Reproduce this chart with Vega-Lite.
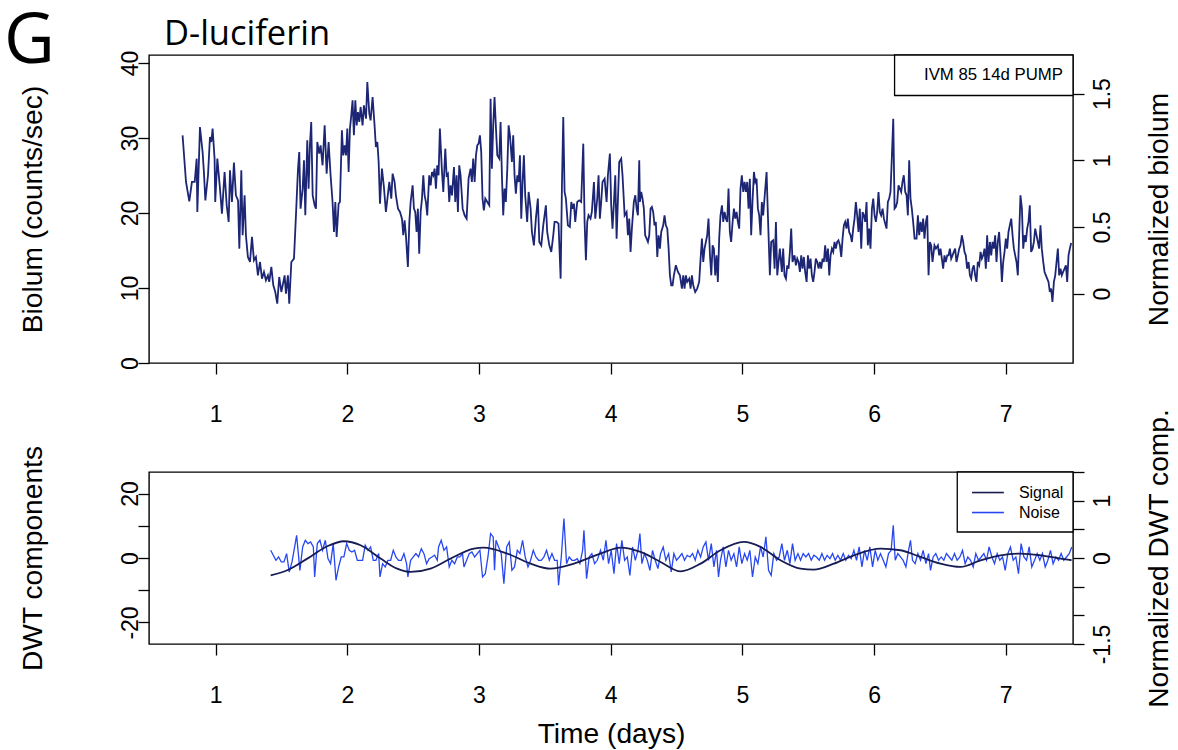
{
 "$schema": "https://vega.github.io/schema/vega-lite/v6.json",
 "background": "white",
 "padding": {"left": 3, "top": 6, "right": 5, "bottom": 5},
 "bounds": "flush",
 "spacing": 109,
 "config": {
  "font": "Liberation Sans",
  "view": {"stroke": "black", "strokeWidth": 1.4},
  "axis": {"domain": false, "grid": false, "labelFont": "Liberation Sans", "titleFont": "Liberation Sans", "labelFontSize": 23, "titleFontSize": 28.2, "titleFontWeight": "normal", "labelColor": "black", "titleColor": "black", "tickColor": "black", "tickSize": 11, "tickWidth": 1.3, "labelFlush": false, "labelOverlap": false}
 },
 "datasets": {
  "biolum": [
{"t":0.749,"b":30.36},{"t":0.775,"b":24.14},{"t":0.800,"b":21.56},{"t":0.820,"b":24.14},{"t":0.841,"b":24.14},{"t":0.856,"b":27.25},{"t":0.861,"b":20.14},{"t":0.881,"b":31.47},{"t":0.901,"b":28.14},{"t":0.911,"b":25.47},{"t":0.922,"b":21.69},{"t":0.942,"b":25.03},{"t":0.957,"b":30.14},{"t":0.967,"b":29.47},{"t":0.977,"b":31.25},{"t":0.992,"b":27.25},{"t":0.997,"b":21.47},{"t":1.013,"b":27.25},{"t":1.033,"b":23.25},{"t":1.048,"b":19.92},{"t":1.068,"b":25.47},{"t":1.084,"b":21.03},{"t":1.099,"b":18.81},{"t":1.109,"b":25.69},{"t":1.124,"b":21.47},{"t":1.139,"b":26.72},{"t":1.154,"b":22.36},{"t":1.170,"b":21.69},{"t":1.180,"b":15.25},{"t":1.195,"b":25.69},{"t":1.205,"b":17.03},{"t":1.220,"b":22.36},{"t":1.230,"b":17.03},{"t":1.245,"b":14.14},{"t":1.261,"b":13.47},{"t":1.276,"b":16.81},{"t":1.291,"b":13.69},{"t":1.306,"b":14.14},{"t":1.321,"b":11.69},{"t":1.337,"b":13.47},{"t":1.352,"b":11.25},{"t":1.367,"b":12.14},{"t":1.382,"b":11.03},{"t":1.397,"b":11.69},{"t":1.407,"b":10.81},{"t":1.423,"b":12.81},{"t":1.438,"b":10.36},{"t":1.453,"b":9.47},{"t":1.468,"b":7.92},{"t":1.483,"b":11.47},{"t":1.499,"b":9.47},{"t":1.509,"b":10.36},{"t":1.524,"b":11.69},{"t":1.534,"b":9.25},{"t":1.549,"b":11.69},{"t":1.559,"b":7.92},{"t":1.575,"b":13.47},{"t":1.595,"b":13.92},{"t":1.610,"b":19.69},{"t":1.625,"b":25.69},{"t":1.635,"b":28.14},{"t":1.645,"b":20.58},{"t":1.661,"b":23.25},{"t":1.671,"b":27.03},{"t":1.681,"b":19.69},{"t":1.696,"b":29.69},{"t":1.706,"b":23.25},{"t":1.716,"b":29.03},{"t":1.726,"b":32.14},{"t":1.737,"b":22.36},{"t":1.752,"b":21.03},{"t":1.762,"b":20.58},{"t":1.772,"b":29.47},{"t":1.787,"b":27.92},
{"t":1.797,"b":29.03},{"t":1.812,"b":26.36},{"t":1.828,"b":31.69},{"t":1.843,"b":25.25},{"t":1.858,"b":29.47},{"t":1.873,"b":25.03},{"t":1.888,"b":21.47},{"t":1.899,"b":17.47},{"t":1.909,"b":21.47},{"t":1.919,"b":16.81},{"t":1.934,"b":21.25},{"t":1.944,"b":21.47},{"t":1.959,"b":31.03},{"t":1.969,"b":27.69},{"t":1.980,"b":29.03},{"t":1.990,"b":27.69},{"t":2.000,"b":31.25},{"t":2.010,"b":25.47},{"t":2.020,"b":31.25},{"t":2.030,"b":33.03},{"t":2.040,"b":35.03},{"t":2.050,"b":30.36},{"t":2.061,"b":35.03},{"t":2.071,"b":31.69},{"t":2.081,"b":33.47},{"t":2.091,"b":32.14},{"t":2.101,"b":34.14},{"t":2.116,"b":31.69},{"t":2.126,"b":34.36},{"t":2.142,"b":32.58},{"t":2.152,"b":37.47},{"t":2.167,"b":33.25},{"t":2.177,"b":32.36},{"t":2.192,"b":35.47},{"t":2.207,"b":31.69},{"t":2.217,"b":28.81},{"t":2.228,"b":29.47},{"t":2.238,"b":26.81},{"t":2.248,"b":21.25},{"t":2.263,"b":25.92},{"t":2.278,"b":23.47},{"t":2.293,"b":20.14},{"t":2.309,"b":22.58},{"t":2.319,"b":24.14},{"t":2.334,"b":21.92},{"t":2.344,"b":25.25},{"t":2.359,"b":24.14},{"t":2.369,"b":22.36},{"t":2.385,"b":20.58},{"t":2.400,"b":20.14},{"t":2.415,"b":19.25},{"t":2.425,"b":17.03},{"t":2.435,"b":19.03},{"t":2.445,"b":17.03},{"t":2.460,"b":12.81},{"t":2.471,"b":18.81},{"t":2.481,"b":21.47},{"t":2.496,"b":23.69},{"t":2.506,"b":20.58},{"t":2.516,"b":20.14},{"t":2.526,"b":17.47},{"t":2.536,"b":20.58},{"t":2.546,"b":14.58},{"t":2.557,"b":20.14},{"t":2.567,"b":21.92},{"t":2.577,"b":25.03},{"t":2.587,"b":22.36},{"t":2.597,"b":21.47},{"t":2.607,"b":19.69},{"t":2.622,"b":25.03},{"t":2.633,"b":23.69},{"t":2.643,"b":25.47},{"t":2.653,"b":25.03},{"t":2.663,"b":25.92},{"t":2.673,"b":23.25},{"t":2.683,"b":26.36},{"t":2.693,"b":25.03},{"t":2.703,"b":31.25},{"t":2.719,"b":25.47},{"t":2.729,"b":22.81},{"t":2.744,"b":28.58},{"t":2.754,"b":25.03},{"t":2.764,"b":25.25},{"t":2.774,"b":21.47},{"t":2.784,"b":23.69},{"t":2.795,"b":22.36},{"t":2.810,"b":26.14},{"t":2.820,"b":21.47},{"t":2.830,"b":25.03},{"t":2.840,"b":20.14},{"t":2.850,"b":26.36},{"t":2.860,"b":25.03},{"t":2.876,"b":20.58},{"t":2.891,"b":19.69},{"t":2.906,"b":19.25},{"t":2.921,"b":24.58},
{"t":2.936,"b":25.92},{"t":2.946,"b":24.14},{"t":2.956,"b":27.25},{"t":2.967,"b":24.14},{"t":2.977,"b":27.69},{"t":2.987,"b":29.03},{"t":2.997,"b":29.25},{"t":3.007,"b":30.36},{"t":3.017,"b":28.14},{"t":3.027,"b":21.92},{"t":3.037,"b":20.36},{"t":3.048,"b":21.92},{"t":3.063,"b":21.47},{"t":3.078,"b":21.03},{"t":3.088,"b":35.25},{"t":3.098,"b":25.92},{"t":3.108,"b":31.69},{"t":3.118,"b":35.47},{"t":3.129,"b":31.25},{"t":3.139,"b":27.69},{"t":3.154,"b":27.25},{"t":3.164,"b":32.14},{"t":3.174,"b":25.03},{"t":3.184,"b":19.69},{"t":3.194,"b":23.25},{"t":3.204,"b":21.47},{"t":3.215,"b":25.92},{"t":3.225,"b":31.69},{"t":3.235,"b":30.36},{"t":3.250,"b":26.81},{"t":3.260,"b":30.36},{"t":3.270,"b":25.03},{"t":3.280,"b":22.58},{"t":3.291,"b":25.03},{"t":3.301,"b":24.14},{"t":3.311,"b":27.69},{"t":3.321,"b":19.25},{"t":3.331,"b":24.14},{"t":3.341,"b":27.69},{"t":3.351,"b":22.36},{"t":3.366,"b":18.81},{"t":3.377,"b":22.81},{"t":3.392,"b":20.58},{"t":3.402,"b":17.47},{"t":3.417,"b":15.69},{"t":3.432,"b":19.25},{"t":3.447,"b":21.92},{"t":3.458,"b":16.14},{"t":3.473,"b":15.69},{"t":3.488,"b":18.36},{"t":3.498,"b":19.69},{"t":3.508,"b":21.03},{"t":3.518,"b":17.47},{"t":3.534,"b":15.69},{"t":3.549,"b":14.81},{"t":3.564,"b":17.03},{"t":3.574,"b":18.81},{"t":3.589,"b":18.81},{"t":3.604,"b":18.58},{"t":3.620,"b":11.25},{"t":3.630,"b":23.69},{"t":3.640,"b":32.81},{"t":3.650,"b":22.81},{"t":3.660,"b":21.92},{"t":3.675,"b":18.36},{"t":3.690,"b":18.14},{"t":3.701,"b":21.47},{"t":3.711,"b":20.58},{"t":3.721,"b":21.25},{"t":3.731,"b":18.81},{"t":3.746,"b":21.47},{"t":3.761,"b":21.69},{"t":3.776,"b":21.47},{"t":3.792,"b":29.25},{"t":3.802,"b":18.81},{"t":3.812,"b":13.69},{"t":3.822,"b":18.81},{"t":3.832,"b":19.69},{"t":3.847,"b":19.25},{"t":3.857,"b":20.14},{"t":3.873,"b":24.14},{"t":3.883,"b":19.25},{"t":3.898,"b":21.92},{"t":3.908,"b":25.03},{"t":3.918,"b":19.25},{"t":3.928,"b":21.47},{"t":3.938,"b":24.14},{"t":3.954,"b":24.58},{"t":3.969,"b":21.47},{"t":3.979,"b":25.03},{"t":3.994,"b":27.92},{"t":4.004,"b":21.03},{"t":4.014,"b":17.92},{"t":4.025,"b":21.47},{"t":4.035,"b":25.03},{"t":4.045,"b":16.58},
{"t":4.065,"b":26.81},{"t":4.080,"b":27.25},{"t":4.090,"b":25.03},{"t":4.106,"b":19.69},{"t":4.121,"b":20.14},{"t":4.131,"b":17.03},{"t":4.141,"b":19.25},{"t":4.151,"b":14.81},{"t":4.161,"b":17.92},{"t":4.176,"b":21.47},{"t":4.187,"b":22.36},{"t":4.197,"b":20.58},{"t":4.207,"b":19.69},{"t":4.217,"b":27.03},{"t":4.222,"b":21.47},{"t":4.232,"b":22.81},{"t":4.242,"b":21.92},{"t":4.252,"b":20.58},{"t":4.262,"b":17.03},{"t":4.273,"b":16.58},{"t":4.283,"b":16.14},{"t":4.293,"b":17.03},{"t":4.303,"b":20.58},{"t":4.313,"b":20.81},{"t":4.323,"b":20.14},{"t":4.333,"b":18.36},{"t":4.343,"b":18.81},{"t":4.354,"b":14.14},{"t":4.364,"b":17.03},{"t":4.374,"b":15.25},{"t":4.384,"b":17.47},{"t":4.399,"b":18.36},{"t":4.409,"b":19.69},{"t":4.419,"b":18.36},{"t":4.430,"b":17.92},{"t":4.440,"b":15.25},{"t":4.450,"b":11.69},{"t":4.460,"b":10.36},{"t":4.470,"b":10.36},{"t":4.480,"b":11.69},{"t":4.495,"b":13.03},{"t":4.511,"b":12.14},{"t":4.526,"b":11.69},{"t":4.541,"b":9.92},{"t":4.551,"b":11.69},{"t":4.561,"b":9.92},{"t":4.571,"b":11.69},{"t":4.581,"b":10.81},{"t":4.597,"b":11.25},{"t":4.607,"b":9.92},{"t":4.617,"b":11.69},{"t":4.627,"b":10.36},{"t":4.642,"b":9.47},{"t":4.657,"b":9.92},{"t":4.672,"b":10.81},{"t":4.683,"b":13.92},{"t":4.693,"b":16.58},{"t":4.703,"b":13.47},{"t":4.713,"b":15.25},{"t":4.723,"b":16.14},{"t":4.733,"b":17.03},{"t":4.743,"b":19.25},{"t":4.754,"b":14.36},{"t":4.764,"b":11.69},{"t":4.774,"b":15.69},{"t":4.784,"b":15.25},{"t":4.794,"b":11.69},{"t":4.804,"b":14.36},{"t":4.814,"b":10.81},{"t":4.824,"b":16.58},{"t":4.834,"b":19.69},{"t":4.845,"b":21.03},{"t":4.855,"b":18.81},{"t":4.865,"b":20.14},{"t":4.875,"b":19.25},{"t":4.885,"b":18.81},{"t":4.895,"b":23.25},{"t":4.905,"b":17.47},{"t":4.915,"b":16.14},{"t":4.926,"b":18.81},{"t":4.936,"b":20.58},{"t":4.946,"b":19.25},{"t":4.956,"b":20.14},{"t":4.966,"b":18.81},{"t":4.976,"b":17.92},{"t":4.986,"b":23.25},{"t":4.996,"b":25.03},{"t":5.007,"b":22.81},{"t":5.017,"b":24.14},{"t":5.027,"b":22.81},{"t":5.037,"b":24.14},{"t":5.047,"b":20.58},{"t":5.057,"b":24.58},{"t":5.067,"b":17.03},{"t":5.077,"b":21.47},{"t":5.088,"b":25.47},{"t":5.098,"b":24.14},{"t":5.108,"b":24.58},{"t":5.118,"b":20.58},{"t":5.128,"b":19.69},{"t":5.138,"b":17.03},{"t":5.148,"b":21.47},{"t":5.158,"b":19.69},
{"t":5.184,"b":25.47},{"t":5.194,"b":19.69},{"t":5.209,"b":11.69},{"t":5.219,"b":16.14},{"t":5.234,"b":16.36},{"t":5.245,"b":12.58},{"t":5.255,"b":18.81},{"t":5.265,"b":11.69},{"t":5.275,"b":13.47},{"t":5.285,"b":15.25},{"t":5.300,"b":12.14},{"t":5.310,"b":15.25},{"t":5.320,"b":11.69},{"t":5.331,"b":11.25},{"t":5.341,"b":13.03},{"t":5.351,"b":12.58},{"t":5.361,"b":14.81},{"t":5.371,"b":17.92},{"t":5.381,"b":13.47},{"t":5.396,"b":14.36},{"t":5.407,"b":13.03},{"t":5.417,"b":13.92},{"t":5.427,"b":13.47},{"t":5.437,"b":12.14},{"t":5.447,"b":14.36},{"t":5.457,"b":12.58},{"t":5.467,"b":14.14},{"t":5.477,"b":12.14},{"t":5.488,"b":10.81},{"t":5.498,"b":14.36},{"t":5.508,"b":12.58},{"t":5.518,"b":13.92},{"t":5.528,"b":11.69},{"t":5.538,"b":10.81},{"t":5.548,"b":12.14},{"t":5.558,"b":13.92},{"t":5.569,"b":13.47},{"t":5.579,"b":12.58},{"t":5.589,"b":13.47},{"t":5.599,"b":12.58},{"t":5.609,"b":13.92},{"t":5.619,"b":13.47},{"t":5.629,"b":15.69},{"t":5.639,"b":13.47},{"t":5.650,"b":15.25},{"t":5.660,"b":11.69},{"t":5.670,"b":14.36},{"t":5.680,"b":15.25},{"t":5.690,"b":14.81},{"t":5.700,"b":16.14},{"t":5.710,"b":15.25},{"t":5.720,"b":16.14},{"t":5.730,"b":16.36},{"t":5.741,"b":15.69},{"t":5.751,"b":14.14},{"t":5.761,"b":16.58},{"t":5.771,"b":18.36},{"t":5.781,"b":18.81},{"t":5.791,"b":17.92},{"t":5.801,"b":19.25},{"t":5.811,"b":17.47},{"t":5.822,"b":17.03},{"t":5.832,"b":16.14},{"t":5.842,"b":17.92},{"t":5.852,"b":19.25},{"t":5.862,"b":21.47},{"t":5.872,"b":19.69},{"t":5.882,"b":17.47},{"t":5.892,"b":20.58},{"t":5.903,"b":15.25},{"t":5.913,"b":20.14},{"t":5.923,"b":19.69},{"t":5.933,"b":18.81},{"t":5.943,"b":21.47},{"t":5.953,"b":15.69},{"t":5.963,"b":17.92},{"t":5.973,"b":15.25},{"t":5.984,"b":20.58},{"t":5.994,"b":21.92},{"t":6.004,"b":19.69},{"t":6.014,"b":18.81},{"t":6.024,"b":20.14},{"t":6.034,"b":22.81},{"t":6.044,"b":20.14},{"t":6.054,"b":19.69},{"t":6.065,"b":20.58},{"t":6.075,"b":19.25},{"t":6.085,"b":18.58},{"t":6.095,"b":17.92},{"t":6.105,"b":21.47},{"t":6.115,"b":21.92},{"t":6.125,"b":22.81},{"t":6.135,"b":27.25},{"t":6.146,"b":32.58},{"t":6.156,"b":20.58},{"t":6.166,"b":20.81},{"t":6.176,"b":21.47},{"t":6.186,"b":23.69},{"t":6.196,"b":23.25},{"t":6.206,"b":22.81},{"t":6.216,"b":24.14},{"t":6.226,"b":25.03},{"t":6.237,"b":22.81},{"t":6.247,"b":22.36},{"t":6.257,"b":19.69},{"t":6.267,"b":27.03},{"t":6.277,"b":21.92},{"t":6.287,"b":20.58},{"t":6.297,"b":18.81},{"t":6.308,"b":16.58},{"t":6.323,"b":16.58},
{"t":6.333,"b":19.69},{"t":6.343,"b":17.03},{"t":6.353,"b":18.81},{"t":6.363,"b":17.47},{"t":6.373,"b":19.25},{"t":6.383,"b":16.58},{"t":6.394,"b":18.81},{"t":6.404,"b":19.69},{"t":6.414,"b":11.69},{"t":6.424,"b":16.14},{"t":6.434,"b":15.69},{"t":6.444,"b":13.47},{"t":6.459,"b":15.69},{"t":6.470,"b":15.25},{"t":6.485,"b":15.69},{"t":6.495,"b":14.36},{"t":6.505,"b":15.25},{"t":6.515,"b":13.92},{"t":6.525,"b":12.58},{"t":6.535,"b":14.36},{"t":6.545,"b":13.47},{"t":6.556,"b":14.36},{"t":6.566,"b":14.36},{"t":6.576,"b":15.25},{"t":6.586,"b":13.92},{"t":6.596,"b":14.36},{"t":6.606,"b":14.81},{"t":6.616,"b":15.25},{"t":6.626,"b":13.47},{"t":6.637,"b":14.36},{"t":6.647,"b":15.25},{"t":6.657,"b":15.69},{"t":6.667,"b":17.03},{"t":6.677,"b":16.14},{"t":6.687,"b":14.81},{"t":6.697,"b":14.36},{"t":6.707,"b":12.58},{"t":6.718,"b":13.47},{"t":6.728,"b":11.69},{"t":6.738,"b":11.25},{"t":6.748,"b":12.58},{"t":6.758,"b":13.03},{"t":6.768,"b":11.69},{"t":6.778,"b":10.81},{"t":6.788,"b":13.47},{"t":6.799,"b":13.03},{"t":6.809,"b":14.81},{"t":6.819,"b":13.92},{"t":6.829,"b":14.36},{"t":6.839,"b":15.25},{"t":6.849,"b":12.58},{"t":6.859,"b":17.03},{"t":6.869,"b":13.47},{"t":6.880,"b":16.14},{"t":6.890,"b":14.36},{"t":6.900,"b":16.14},{"t":6.910,"b":15.25},{"t":6.920,"b":17.03},{"t":6.930,"b":13.47},{"t":6.940,"b":16.14},{"t":6.950,"b":17.47},{"t":6.961,"b":14.36},{"t":6.971,"b":10.81},{"t":6.981,"b":13.47},{"t":6.991,"b":14.81},{"t":7.001,"b":16.58},{"t":7.011,"b":15.25},{"t":7.021,"b":17.47},{"t":7.031,"b":18.36},{"t":7.042,"b":19.25},{"t":7.052,"b":17.03},{"t":7.062,"b":15.25},{"t":7.072,"b":14.36},{"t":7.082,"b":13.47},{"t":7.092,"b":11.69},{"t":7.102,"b":17.03},{"t":7.112,"b":22.36},{"t":7.123,"b":20.58},{"t":7.133,"b":15.25},{"t":7.143,"b":17.03},{"t":7.153,"b":16.14},{"t":7.163,"b":17.92},{"t":7.173,"b":18.81},{"t":7.183,"b":21.03},{"t":7.193,"b":14.81},{"t":7.204,"b":15.25},{"t":7.214,"b":16.14},{"t":7.224,"b":17.92},{"t":7.234,"b":17.03},{"t":7.244,"b":16.14},{"t":7.254,"b":15.25},{"t":7.264,"b":18.36},{"t":7.274,"b":15.25},{"t":7.285,"b":13.47},{"t":7.295,"b":12.14},{"t":7.305,"b":11.69},{"t":7.315,"b":11.25},{"t":7.325,"b":10.81},{"t":7.335,"b":9.47},{"t":7.345,"b":9.92},{"t":7.355,"b":8.14},{"t":7.366,"b":10.81},{"t":7.376,"b":11.69},{"t":7.386,"b":13.47},{"t":7.396,"b":15.25},{"t":7.406,"b":11.69},{"t":7.416,"b":12.58},{"t":7.426,"b":11.69},{"t":7.436,"b":12.14},{"t":7.447,"b":12.58},{"t":7.457,"b":13.03},{"t":7.467,"b":10.81},{"t":7.477,"b":14.36},{"t":7.487,"b":15.25},{"t":7.497,"b":16.0}
  ],
  "noise": [
{"t":1.418,"v":2.39},{"t":1.438,"v":0.84},{"t":1.458,"v":-0.71},{"t":1.478,"v":0.32},{"t":1.499,"v":-1.23},{"t":1.519,"v":-1.23},{"t":1.539,"v":1.36},{"t":1.559,"v":-4.33},{"t":1.580,"v":-1.23},{"t":1.600,"v":3.43},{"t":1.615,"v":7.05},{"t":1.640,"v":-3.82},{"t":1.661,"v":3.43},{"t":1.681,"v":5.50},{"t":1.701,"v":4.47},{"t":1.721,"v":4.98},{"t":1.742,"v":3.43},{"t":1.752,"v":-5.89},{"t":1.772,"v":4.47},{"t":1.792,"v":5.50},{"t":1.812,"v":2.39},{"t":1.833,"v":5.50},{"t":1.853,"v":-0.19},{"t":1.873,"v":-1.75},{"t":1.893,"v":4.47},{"t":1.914,"v":-6.92},{"t":1.934,"v":-2.78},{"t":1.954,"v":0.32},{"t":1.974,"v":0.32},{"t":1.995,"v":4.47},{"t":2.015,"v":2.39},{"t":2.035,"v":1.88},{"t":2.055,"v":2.39},{"t":2.076,"v":-0.71},{"t":2.096,"v":-0.71},{"t":2.116,"v":-0.71},{"t":2.136,"v":3.95},{"t":2.157,"v":2.39},{"t":2.177,"v":3.43},{"t":2.197,"v":-0.71},{"t":2.217,"v":-0.71},{"t":2.238,"v":1.36},{"t":2.248,"v":-5.89},{"t":2.268,"v":-1.75},{"t":2.288,"v":-2.78},{"t":2.308,"v":-0.71},{"t":2.329,"v":-0.71},{"t":2.349,"v":2.39},{"t":2.369,"v":0.32},{"t":2.389,"v":-0.71},{"t":2.410,"v":-0.71},{"t":2.430,"v":1.36},{"t":2.450,"v":-1.75},{"t":2.460,"v":-5.89},{"t":2.481,"v":-0.71},{"t":2.501,"v":0.32},{"t":2.521,"v":1.36},{"t":2.541,"v":0.32},{"t":2.562,"v":2.91},{"t":2.582,"v":1.36},{"t":2.602,"v":-1.75},{"t":2.622,"v":-0.19},{"t":2.643,"v":0.32},{"t":2.663,"v":0.84},{"t":2.683,"v":-0.71},{"t":2.693,"v":3.43},{"t":2.713,"v":5.50},{"t":2.734,"v":2.39},{"t":2.754,"v":3.43},{"t":2.774,"v":-2.78},{"t":2.794,"v":-0.71},{"t":2.815,"v":-1.75},{"t":2.835,"v":0.32},{"t":2.855,"v":0.32},{"t":2.875,"v":1.36},{"t":2.886,"v":-2.78},{"t":2.906,"v":-0.71},{"t":2.926,"v":1.36},{"t":2.946,"v":1.88},{"t":2.967,"v":0.32},{"t":2.987,"v":1.36},{"t":3.007,"v":2.39},{"t":3.027,"v":-5.89},{"t":3.048,"v":-4.85},{"t":3.068,"v":0.32},{"t":3.088,"v":7.57},{"t":3.108,"v":6.54},{"t":3.118,"v":-3.82},{"t":3.129,"v":5.50},{"t":3.149,"v":3.43},{"t":3.169,"v":1.36},{"t":3.189,"v":-7.95},{"t":3.210,"v":3.43},{"t":3.230,"v":4.98},{"t":3.250,"v":-3.82},{"t":3.270,"v":-2.78},{"t":3.291,"v":2.39},{"t":3.311,"v":1.36},{"t":3.331,"v":5.50},{"t":3.351,"v":0.32},{"t":3.372,"v":-2.78},{"t":3.392,"v":-0.71},{"t":3.412,"v":2.39},{"t":3.432,"v":0.32},{"t":3.453,"v":-0.71},{"t":3.473,"v":-0.71},{"t":3.493,"v":0.32},{"t":3.513,"v":2.39},{"t":3.534,"v":-0.71},{"t":3.554,"v":1.36},{"t":3.574,"v":-0.71},{"t":3.594,"v":-0.71},{"t":3.604,"v":-8.47},{"t":3.625,"v":0.32},{"t":3.645,"v":12.23},{"t":3.665,"v":-1.75},{"t":3.685,"v":0.32},{"t":3.706,"v":-0.71},{"t":3.726,"v":-0.71},{"t":3.746,"v":-0.19},{"t":3.766,"v":-1.75},{"t":3.787,"v":2.39},{"t":3.797,"v":8.61},{"t":3.817,"v":-6.40},{"t":3.837,"v":0.32},{"t":3.857,"v":1.36},{"t":3.878,"v":-1.75},{"t":3.898,"v":-0.71},
{"t":3.923,"v":2.39},{"t":3.944,"v":-0.71},{"t":3.964,"v":5.50},{"t":3.984,"v":-1.75},{"t":4.004,"v":2.39},{"t":4.025,"v":-4.85},{"t":4.045,"v":4.47},{"t":4.065,"v":-1.75},{"t":4.085,"v":5.50},{"t":4.106,"v":-0.71},{"t":4.126,"v":0.32},{"t":4.146,"v":-5.37},{"t":4.166,"v":3.43},{"t":4.187,"v":-0.71},{"t":4.207,"v":2.39},{"t":4.222,"v":7.57},{"t":4.237,"v":-1.75},{"t":4.257,"v":1.36},{"t":4.278,"v":-0.71},{"t":4.298,"v":-3.82},{"t":4.318,"v":2.39},{"t":4.338,"v":-0.71},{"t":4.359,"v":-3.30},{"t":4.379,"v":1.36},{"t":4.399,"v":3.43},{"t":4.419,"v":-0.71},{"t":4.440,"v":1.36},{"t":4.460,"v":-4.33},{"t":4.480,"v":1.36},{"t":4.500,"v":-0.71},{"t":4.521,"v":0.32},{"t":4.541,"v":1.36},{"t":4.561,"v":-0.71},{"t":4.581,"v":0.84},{"t":4.602,"v":0.32},{"t":4.622,"v":1.36},{"t":4.642,"v":-0.71},{"t":4.662,"v":2.39},{"t":4.683,"v":0.32},{"t":4.703,"v":3.43},{"t":4.723,"v":4.98},{"t":4.743,"v":-0.71},{"t":4.764,"v":4.47},{"t":4.784,"v":-2.78},{"t":4.804,"v":2.39},{"t":4.819,"v":-5.89},{"t":4.834,"v":-0.71},{"t":4.855,"v":3.43},{"t":4.875,"v":-2.78},{"t":4.895,"v":2.39},{"t":4.915,"v":-0.71},{"t":4.936,"v":1.36},{"t":4.956,"v":-2.78},{"t":4.976,"v":3.43},{"t":4.996,"v":-1.75},{"t":5.017,"v":1.36},{"t":5.037,"v":-0.71},{"t":5.057,"v":2.39},{"t":5.077,"v":-5.89},{"t":5.098,"v":0.32},{"t":5.118,"v":-1.75},{"t":5.138,"v":3.43},{"t":5.158,"v":0.32},{"t":5.179,"v":6.54},{"t":5.199,"v":-3.82},{"t":5.219,"v":-5.37},{"t":5.239,"v":1.36},{"t":5.260,"v":-0.71},{"t":5.280,"v":0.32},{"t":5.300,"v":4.47},{"t":5.320,"v":-0.71},{"t":5.341,"v":2.39},{"t":5.361,"v":-1.75},{"t":5.381,"v":4.47},{"t":5.401,"v":-0.71},{"t":5.422,"v":1.36},{"t":5.442,"v":-0.71},{"t":5.462,"v":1.36},{"t":5.482,"v":0.32},{"t":5.503,"v":1.36},{"t":5.523,"v":-0.71},{"t":5.543,"v":0.84},{"t":5.563,"v":0.32},{"t":5.584,"v":-0.71},{"t":5.604,"v":1.36},{"t":5.624,"v":-0.71},{"t":5.644,"v":0.84},{"t":5.665,"v":-0.19},{"t":5.685,"v":1.36},{"t":5.705,"v":-0.71},{"t":5.725,"v":0.84},{"t":5.746,"v":-0.71},{"t":5.766,"v":1.36},{"t":5.786,"v":-0.71},{"t":5.806,"v":0.84},{"t":5.827,"v":-0.19},{"t":5.847,"v":2.39},{"t":5.867,"v":-0.71},{"t":5.887,"v":3.43},{"t":5.908,"v":-2.78},{"t":5.928,"v":2.39},{"t":5.948,"v":-0.71},{"t":5.968,"v":3.43},{"t":5.989,"v":-2.78},{"t":6.009,"v":2.39},{"t":6.029,"v":-0.71},{"t":6.049,"v":1.36},{"t":6.070,"v":-0.71},{"t":6.090,"v":-2.78},{"t":6.110,"v":1.36},{"t":6.130,"v":2.39},{"t":6.146,"v":10.16},{"t":6.161,"v":-0.71},{"t":6.181,"v":1.36},{"t":6.201,"v":0.32},{"t":6.221,"v":-0.71},{"t":6.242,"v":-2.78},{"t":6.262,"v":2.39},{"t":6.277,"v":5.50},{"t":6.292,"v":-0.71},{"t":6.312,"v":-1.75},{"t":6.333,"v":1.36},{"t":6.353,"v":-0.71},{"t":6.373,"v":2.39},{"t":6.394,"v":-1.75},{"t":6.414,"v":1.36},{"t":6.429,"v":-3.82},{"t":6.449,"v":0.32},{"t":6.469,"v":1.36},{"t":6.490,"v":-0.71},{"t":6.510,"v":0.32},{"t":6.530,"v":-0.71},{"t":6.550,"v":1.36},{"t":6.571,"v":0.32},{"t":6.591,"v":-0.71},{"t":6.611,"v":1.36},{"t":6.631,"v":-0.71},{"t":6.652,"v":0.32},{"t":6.672,"v":2.39},{"t":6.692,"v":-1.75},{"t":6.712,"v":0.32},{"t":6.733,"v":-0.71},{"t":6.753,"v":-2.78},{"t":6.773,"v":1.36},{"t":6.793,"v":-0.71},{"t":6.814,"v":0.32},{"t":6.834,"v":1.36},{"t":6.854,"v":-0.71},{"t":6.874,"v":3.43},{"t":6.895,"v":0.32},{"t":6.915,"v":-1.75},{"t":6.935,"v":1.36},{"t":6.955,"v":-0.71},{"t":6.976,"v":0.32},{"t":6.996,"v":-3.82},{"t":7.016,"v":1.36},{"t":7.036,"v":3.43},{"t":7.057,"v":-0.71},{"t":7.077,"v":0.32},{"t":7.097,"v":-4.85},{"t":7.117,"v":4.47},{"t":7.138,"v":0.32},{"t":7.158,"v":-0.71},{"t":7.178,"v":3.43},{"t":7.198,"v":-2.78},{"t":7.219,"v":-0.71},{"t":7.239,"v":1.36},{"t":7.259,"v":-0.71},{"t":7.279,"v":1.36},{"t":7.300,"v":-2.78},{"t":7.320,"v":-0.71},{"t":7.340,"v":2.39},{"t":7.360,"v":-1.75},{"t":7.381,"v":0.32},{"t":7.401,"v":-0.71},{"t":7.421,"v":1.36},{"t":7.441,"v":-0.71},{"t":7.462,"v":0.32},{"t":7.482,"v":1.36},{"t":7.502,"v":3.43}
  ],
  "signal": [
{"t":1.418,"v":-5.37},{"t":1.544,"v":-3.81},{"t":1.696,"v":-0.19},{"t":1.848,"v":3.64},{"t":1.974,"v":5.19},{"t":2.101,"v":3.95},{"t":2.253,"v":-0.19},{"t":2.379,"v":-3.30},{"t":2.481,"v":-4.33},{"t":2.632,"v":-3.30},{"t":2.784,"v":-0.19},{"t":2.961,"v":2.91},{"t":3.037,"v":3.22},{"t":3.215,"v":1.36},{"t":3.392,"v":-1.75},{"t":3.543,"v":-3.30},{"t":3.721,"v":-1.75},{"t":3.923,"v":1.36},{"t":4.075,"v":3.22},{"t":4.227,"v":1.88},{"t":4.379,"v":-1.23},{"t":4.531,"v":-4.13},{"t":4.683,"v":-1.75},{"t":4.834,"v":2.40},{"t":5.012,"v":4.98},{"t":5.138,"v":3.43},{"t":5.290,"v":-0.71},{"t":5.442,"v":-3.30},{"t":5.543,"v":-3.61},{"t":5.695,"v":-1.75},{"t":5.847,"v":0.84},{"t":6.049,"v":2.91},{"t":6.201,"v":2.40},{"t":6.353,"v":0.33},{"t":6.505,"v":-1.75},{"t":6.657,"v":-2.78},{"t":6.809,"v":-0.71},{"t":6.961,"v":0.84},{"t":7.112,"v":1.36},{"t":7.264,"v":0.84},{"t":7.416,"v":-0.19},{"t":7.500,"v":-0.70}
  ]
 },
 "vconcat": [
  {
   "width": 924, "height": 308,
   "title": {"text": "D-luciferin", "anchor": "start", "frame": "group", "font": "Open Sans", "fontSize": 34.5, "fontWeight": "normal", "color": "black", "dx": 15, "offset": -45},
   "layer": [
    {"layer": [
     {"data": {"name": "biolum"}, "mark": {"type": "line", "color": "#1c2674", "strokeWidth": 1.8},
      "encoding": {
       "x": {"field": "t", "type": "quantitative", "scale": {"domain": [0.494, 7.511], "nice": false, "zero": false},
             "axis": {"values": [1, 2, 3, 4, 5, 6, 7], "format": "d", "title": null, "labelPadding": 29}},
       "y": {"field": "b", "type": "quantitative", "scale": {"domain": [0, 41.07], "nice": false, "zero": false},
             "axis": {"values": [0, 10, 20, 30, 40], "title": "Biolum (counts/sec)", "labelAngle": -90, "labelPadding": -4, "titlePadding": 72}}
      }},
     {"data": {"values": [{}]}, "mark": {"type": "rect", "fill": "white", "stroke": "black", "strokeWidth": 1.3},
      "encoding": {"x": {"datum": 6.156}, "x2": {"datum": 7.511}, "y": {"datum": 41.07}, "y2": {"datum": 35.67}}},
     {"data": {"values": [{}]}, "mark": {"type": "text", "align": "right", "baseline": "middle", "fontSize": 16.8, "font": "Liberation Sans", "color": "black"},
      "encoding": {"x": {"datum": 7.435}, "y": {"datum": 38.36}, "text": {"value": "IVM 85 14d PUMP"}}},
     {"data": {"values": [{}]}, "mark": {"type": "text", "align": "left", "baseline": "alphabetic", "fontSize": 70, "font": "Open Sans", "color": "black"},
      "encoding": {"x": {"datum": -0.607}, "y": {"datum": 39.96}, "text": {"value": "G"}}}
    ]},
    {"data": {"values": [{"n": -0.5205}, {"n": 1.7895}]}, "mark": {"type": "point", "opacity": 0},
     "encoding": {"y": {"field": "n", "type": "quantitative", "scale": {"domain": [-0.5205, 1.7895], "nice": false, "zero": false},
       "axis": {"orient": "right", "values": [0, 0.5, 1, 1.5], "format": "~g", "title": "Normalized biolum", "labelAngle": -90, "titleAngle": -90, "labelPadding": 7, "titlePadding": 59}}}}
   ],
   "resolve": {"scale": {"y": "independent"}}
  },
  {
   "width": 924, "height": 172,
   "layer": [
    {"layer": [
     {"data": {"name": "noise"}, "mark": {"type": "line", "color": "#2747f2", "strokeWidth": 1.3},
      "encoding": {
       "x": {"field": "t", "type": "quantitative", "scale": {"domain": [0.494, 7.511], "nice": false, "zero": false},
             "axis": {"values": [1, 2, 3, 4, 5, 6, 7], "format": "d", "title": "Time (days)", "labelPadding": 29, "titlePadding": 13}},
       "y": {"field": "v", "type": "quantitative", "scale": {"domain": [-26.67, 26.67], "nice": false, "zero": false},
             "axis": {"values": [-20, -10, 0, 10, 20], "labelExpr": "datum.value === -20 ? '-20' : datum.value === 0 ? '0' : datum.value === 20 ? '20' : ''", "title": "DWT components", "labelAngle": -90, "labelPadding": -4, "titlePadding": 72}}
      }},
     {"data": {"name": "signal"}, "mark": {"type": "line", "color": "#171c52", "strokeWidth": 1.8, "interpolate": "monotone"},
      "encoding": {"x": {"field": "t", "type": "quantitative"}, "y": {"field": "v", "type": "quantitative"}}},
     {"data": {"values": [{}]}, "mark": {"type": "rect", "fill": "white", "stroke": "black", "strokeWidth": 1.3},
      "encoding": {"x": {"datum": 6.632}, "x2": {"datum": 7.511}, "y": {"datum": 26.67}, "y2": {"datum": 8.07}}},
     {"data": {"values": [{}]}, "mark": {"type": "rule", "color": "#171c52", "strokeWidth": 1.6},
      "encoding": {"x": {"datum": 6.744}, "x2": {"datum": 6.986}, "y": {"datum": 20.3}}},
     {"data": {"values": [{}]}, "mark": {"type": "rule", "color": "#2747f2", "strokeWidth": 1.6},
      "encoding": {"x": {"datum": 6.744}, "x2": {"datum": 6.986}, "y": {"datum": 14.1}}},
     {"data": {"values": [{}]}, "mark": {"type": "text", "align": "left", "baseline": "middle", "fontSize": 16, "font": "Liberation Sans", "color": "black"},
      "encoding": {"x": {"datum": 7.10}, "y": {"datum": 20.3}, "text": {"value": "Signal"}}},
     {"data": {"values": [{}]}, "mark": {"type": "text", "align": "left", "baseline": "middle", "fontSize": 16, "font": "Liberation Sans", "color": "black"},
      "encoding": {"x": {"datum": 7.10}, "y": {"datum": 14.1}, "text": {"value": "Noise"}}}
    ]},
    {"data": {"values": [{"n": -1.5}, {"n": 1.5}]}, "mark": {"type": "point", "opacity": 0},
     "encoding": {"y": {"field": "n", "type": "quantitative", "scale": {"domain": [-1.5, 1.5], "nice": false, "zero": false},
       "axis": {"orient": "right", "values": [-1.5, -1, -0.5, 0, 0.5, 1, 1.5], "labelExpr": "datum.value === -1.5 ? '-1.5' : datum.value === 0 ? '0' : datum.value === 1 ? '1' : ''", "title": "Normalized DWT comp.", "labelAngle": -90, "titleAngle": -90, "labelPadding": 7, "titlePadding": 59}}}}
   ],
   "resolve": {"scale": {"y": "independent"}}
  }
 ]
}
